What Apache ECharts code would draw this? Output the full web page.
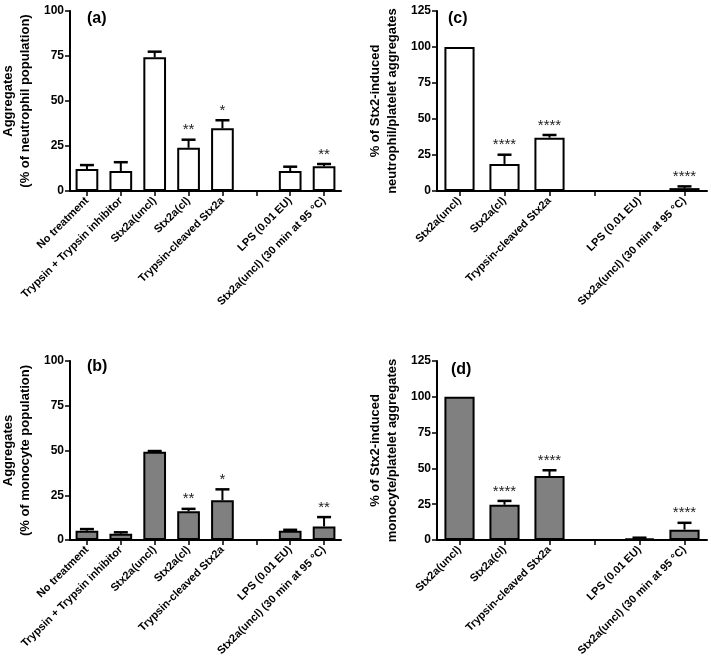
<!DOCTYPE html>
<html><head><meta charset="utf-8">
<script src="https://cdn.jsdelivr.net/npm/echarts@6/dist/echarts.min.js"></script>
<style>html,body{margin:0;padding:0;background:#fff}#c{width:709px;height:664px}</style>
</head><body><div id="c"></div>
<script>
// Panel (a)/(b) categories
const catsAB = ['No treatment','Trypsin + Trypsin inhibitor','Stx2a(uncl)','Stx2a(cl)','Trypsin-cleaved Stx2a','','LPS (0.01 EU)','Stx2a(uncl) (30 min at 95 °C)'];
// Panel (c)/(d) categories
const catsCD = ['Stx2a(uncl)','Stx2a(cl)','Trypsin-cleaved Stx2a','','LPS (0.01 EU)','Stx2a(uncl) (30 min at 95 °C)'];

const valsA = [12.2, 11.1, 74.3, 24.0, 34.8, null, 11.1, 13.7];
const errA  = [2.2, 4.9, 3.1, 4.5, 4.5, null, 2.4, 1.3];
const sigA  = ['', '', '', '**', '*', '', '', '**'];

const valsB = [5.2, 3.5, 49.3, 16.0, 22.2, null, 5.2, 7.6];
const errB  = [0.9, 0.8, 0.4, 1.4, 6.1, null, 0.5, 5.2];
const sigB  = ['', '', '', '**', '*', '', '', '**'];

const valsC = [100, 18.8, 37.0, null, 0, 2.0];
const errC  = [0, 6.4, 1.9, null, 0, 1.2];
const sigC  = ['', '****', '****', '', '', '****'];

const valsD = [100, 24.6, 44.7, null, 1.0, 7.2];
const errD  = [0, 2.7, 4.0, null, 0.6, 4.8];
const sigD  = ['', '****', '****', '', '', '****'];

const ticksAB = {min: 0, max: 100, interval: 25};
const ticksCD = {min: 0, max: 125, interval: 25};

const FONT = "'Liberation Sans', Arial, sans-serif";
const chart = echarts.init(document.getElementById('c'));

const panels = [
  {cats: catsAB, vals: valsA, errs: errA, sigs: sigA, ticks: ticksAB, fill: '#ffffff', label: '(a)',
   name: 'Aggregates\n(% of neutrophil population)', grid: {left: 70, top: 11, width: 271, height: 180}, lab: {left: 82, top: 6}},
  {cats: catsCD, vals: valsC, errs: errC, sigs: sigC, ticks: ticksCD, fill: '#ffffff', label: '(c)',
   name: '% of Stx2-induced\nneutrophil/platelet aggregates', grid: {left: 437, top: 11, width: 270, height: 180}, lab: {left: 443, top: 6}},
  {cats: catsAB, vals: valsB, errs: errB, sigs: sigB, ticks: ticksAB, fill: '#808080', label: '(b)',
   name: 'Aggregates\n(% of monocyte population)', grid: {left: 70, top: 361, width: 271, height: 179}, lab: {left: 82, top: 354}},
  {cats: catsCD, vals: valsD, errs: errD, sigs: sigD, ticks: ticksCD, fill: '#808080', label: '(d)',
   name: '% of Stx2-induced\nmonocyte/platelet aggregates', grid: {left: 437, top: 361, width: 270, height: 179}, lab: {left: 446, top: 357}}
];

const grids = [], xAxes = [], yAxes = [], series = [], titles = [];
panels.forEach((p, k) => {
  grids.push(Object.assign({outerBoundsMode: 'none', containLabel: false}, p.grid));
  titles.push({text: p.label, left: p.lab.left, top: p.lab.top,
    textStyle: {fontFamily: FONT, fontSize: 16, fontWeight: 'bold', color: '#000'}});
  xAxes.push({type: 'category', gridIndex: k, data: p.cats,
    axisLine: {lineStyle: {color: '#000', width: 2}},
    axisTick: {show: true, alignWithLabel: true, interval: 0, length: 5, lineStyle: {color: '#000', width: 1.5}},
    axisLabel: {interval: 0, rotate: 45, margin: 8, fontFamily: FONT, fontSize: 11, fontWeight: 'bold', color: '#000'},
    splitLine: {show: false}});
  yAxes.push({type: 'value', gridIndex: k, min: p.ticks.min, max: p.ticks.max, interval: p.ticks.interval,
    name: p.name, nameLocation: 'middle', nameRotate: 90, nameGap: 36,
    nameTextStyle: {fontFamily: FONT, fontSize: 13, fontWeight: 'bold', color: '#000', lineHeight: 17},
    axisLine: {show: true, lineStyle: {color: '#000', width: 2}},
    axisTick: {show: true, length: 5, lineStyle: {color: '#000', width: 1.5}},
    axisLabel: {margin: 6, fontFamily: FONT, fontSize: 12, fontWeight: 'bold', color: '#000'},
    splitLine: {show: false}});
  series.push({type: 'bar', xAxisIndex: k, yAxisIndex: k, data: p.vals, barWidth: '67%',
    itemStyle: {color: p.fill, borderColor: '#000', borderWidth: 2}, z: 2});
  const edata = p.vals.map((v, i) => v == null ? null : [i, v, p.errs[i]]).filter(d => d);
  series.push({type: 'custom', xAxisIndex: k, yAxisIndex: k, data: edata, z: 3,
    renderItem: function (params, api) {
      const i = api.value(0), v = api.value(1), e = api.value(2);
      const base = api.coord([i, v]);
      const top = api.coord([i, v + e]);
      const children = [];
      if (e > 0) {
        children.push({type: 'line', shape: {x1: base[0], y1: base[1], x2: top[0], y2: top[1]}, style: {stroke: '#000', lineWidth: 2}});
        children.push({type: 'line', shape: {x1: top[0] - 7, y1: top[1], x2: top[0] + 7, y2: top[1]}, style: {stroke: '#000', lineWidth: 2.5}});
      }
      const s = p.sigs[i];
      if (s) {
        children.push({type: 'text', x: top[0], y: top[1] - 2,
          style: {text: s, fill: '#222', fontFamily: FONT, fontSize: 15, align: 'center', verticalAlign: 'bottom'}});
      }
      return {type: 'group', children: children};
    }});
});

chart.setOption({
  animation: false,
  backgroundColor: '#fff',
  title: titles, grid: grids, xAxis: xAxes, yAxis: yAxes, series: series
});
</script></body></html>
